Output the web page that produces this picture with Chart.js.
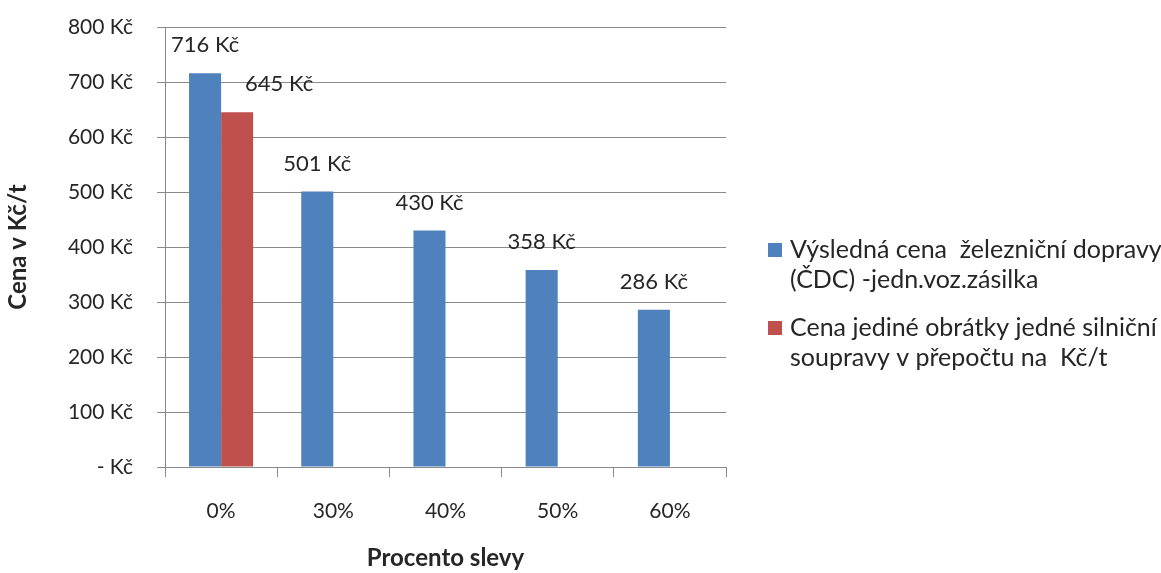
<!DOCTYPE html>
<html>
<head>
<meta charset="utf-8">
<script src="https://cdn.jsdelivr.net/npm/chart.js@4"></script>
<style>
  html, body { margin: 0; padding: 0; background: #fff; }
  #wrap { width: 1161px; height: 573px; }
</style>
</head>
<body>
<div id="wrap"><canvas id="c" width="1161" height="573"></canvas></div>
<script>
// Categories: discount percentage
const categories = ['0%', '30%', '40%', '50%', '60%'];
// Resulting rail price per tonne (Kč/t)
const railPrice = [716, 501, 430, 358, 286];
// Single road-truck round trip converted to Kč/t (only at 0%)
const roadPrice = [645, null, null, null, null];
// Legend texts, wrapped in lines
const railLegend = ['Výsledná cena  železniční dopravy', '(ČDC) -jedn.voz.zásilka'];
const roadLegend = ['Cena jediné obrátky jedné silniční', 'soupravy v přepočtu na  Kč/t'];

const FONT = 'Lato, "Open Sans", sans-serif';
const TEXT = '#262626';
const GRID = '#8a8a8a';

function kc(v) { return v === 0 ? '- Kč' : v + ' Kč'; }

// Value labels above each bar
const valueLabels = {
  id: 'valueLabels',
  afterDatasetsDraw(chart) {
    const ctx = chart.ctx;
    ctx.save();
    ctx.font = '22px ' + FONT;
    ctx.fillStyle = TEXT;
    ctx.textAlign = 'center';
    ctx.textBaseline = 'middle';
    chart.data.datasets.forEach((ds, di) => {
      const meta = chart.getDatasetMeta(di);
      const dx = ds.labelDx || 0;
      meta.data.forEach((bar, i) => {
        const v = ds.data[i];
        if (v === null || v === undefined) return;
        ctx.fillText(kc(v), bar.x + dx, bar.y - 28);
      });
    });
    ctx.restore();
  }
};

// Legend at the right, with wrapped lines
const sideLegend = {
  id: 'sideLegend',
  afterDraw(chart) {
    const ctx = chart.ctx;
    ctx.save();
    ctx.font = '25px ' + FONT;
    ctx.textAlign = 'left';
    ctx.textBaseline = 'middle';
    const items = [
      { color: chart.data.datasets[0].backgroundColor, lines: railLegend, y: 250 },
      { color: chart.data.datasets[1].backgroundColor, lines: roadLegend, y: 328 }
    ];
    items.forEach(it => {
      ctx.fillStyle = it.color;
      ctx.fillRect(768, it.y - 7, 14, 14);
      ctx.fillStyle = TEXT;
      it.lines.forEach((ln, k) => ctx.fillText(ln, 790, it.y + k * 30));
    });
    ctx.restore();
  }
};

new Chart(document.getElementById('c'), {
  type: 'bar',
  data: {
    labels: categories,
    datasets: [
      { label: railLegend.join(' '), data: railPrice, backgroundColor: '#4F81BD' },
      { label: roadLegend.join(' '), data: roadPrice, backgroundColor: '#C0504D', labelDx: 42 }
    ]
  },
  options: {
    responsive: false,
    animation: false,
    devicePixelRatio: 1,
    layout: { padding: { top: 27, right: 435, bottom: 0, left: 0 } },
    datasets: { bar: { categoryPercentage: 0.5714, barPercentage: 1 } },
    plugins: { legend: { display: false }, tooltip: { enabled: false } },
    scales: {
      x: {
        grid: { offset: true, drawOnChartArea: false, drawTicks: true, tickLength: 10, color: GRID },
        border: { color: GRID },
        ticks: { color: TEXT, font: { family: FONT, size: 21 }, padding: 22 },
        title: { display: true, text: 'Procento slevy', color: TEXT, font: { family: FONT, size: 24, weight: 'bold' }, padding: { top: 0, bottom: 0 } },
        afterFit(s) { s.height = 573 - 467; }
      },
      y: {
        min: 0, max: 800,
        grid: { color: GRID, tickLength: 8 },
        border: { color: GRID },
        ticks: { stepSize: 100, color: TEXT, font: { family: FONT, size: 21 }, padding: 24, callback: v => kc(v) },
        title: { display: true, text: 'Cena v Kč/t', color: TEXT, font: { family: FONT, size: 24, weight: 'bold' }, padding: { top: 4, bottom: 0 } },
        afterFit(s) {
          s.width = 165;
          // the top and bottom labels may overhang; the plot area is set by layout padding
          s.paddingTop = 0;
          s.paddingBottom = 0;
        }
      }
    }
  },
  plugins: [valueLabels, sideLegend]
});
</script>
</body>
</html>
